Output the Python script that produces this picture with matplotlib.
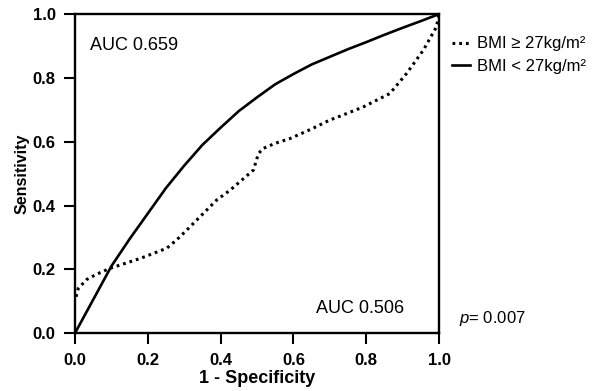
import matplotlib
matplotlib.use("Agg")
import matplotlib.pyplot as plt

plt.rcParams['font.family'] = ['Liberation Sans', 'DejaVu Sans']
plt.rcParams['mathtext.fontset'] = 'custom'
plt.rcParams['mathtext.rm'] = 'Liberation Sans'
plt.rcParams['mathtext.it'] = 'Liberation Sans:italic'

# ROC curve: BMI < 27 (solid)
low_fpr = [0, 0.05, 0.10, 0.15, 0.20, 0.25, 0.30, 0.35, 0.40, 0.45, 0.50,
           0.55, 0.60, 0.65, 0.70, 0.75, 0.80, 0.85, 0.90, 0.95, 1.0]
low_tpr = [0, 0.105, 0.21, 0.295, 0.375, 0.455, 0.525, 0.59, 0.644, 0.696, 0.739,
           0.78, 0.812, 0.842, 0.866, 0.89, 0.912, 0.935, 0.957, 0.978, 1.0]

# BMI >= 27 (dotted)
high_fpr = [0.003, 0.009, 0.032, 0.06, 0.096, 0.179, 0.252, 0.279, 0.307, 0.362,
            0.389, 0.426, 0.49, 0.504, 0.517, 0.55, 0.591, 0.65, 0.70, 0.728,
            0.792, 0.865, 0.911, 0.957, 0.993, 1.0]
high_tpr = [0.114, 0.14, 0.168, 0.185, 0.203, 0.234, 0.266, 0.292, 0.323, 0.386,
            0.417, 0.448, 0.511, 0.563, 0.579, 0.595, 0.61, 0.64, 0.668, 0.68,
            0.709, 0.751, 0.814, 0.887, 0.96, 1.0]

labels = ["BMI \u2265 27kg/m\u00b2", "BMI < 27kg/m\u00b2"]
auc_low = "AUC 0.659"
auc_high = "AUC 0.506"
p_text = "$p$= 0.007"

fig = plt.figure(figsize=(6, 3.91), dpi=100)
ax = fig.add_axes([0.125, 0.148, 0.6067, 0.816])

ax.plot(high_fpr, high_tpr, color='black', lw=2.2, ls=(0, (0.9, 1.3)),
        label=labels[0])
ax.plot(low_fpr, low_tpr, color='black', lw=1.9, label=labels[1])

ax.set_xlim(0, 1)
ax.set_ylim(0, 1)
ax.set_xticks([0, 0.2, 0.4, 0.6, 0.8, 1.0])
ax.set_yticks([0, 0.2, 0.4, 0.6, 0.8, 1.0])
ax.set_xticklabels(["%.1f" % t for t in ax.get_xticks()])
ax.set_yticklabels(["%.1f" % t for t in ax.get_yticks()])
ax.tick_params(direction='out', length=8, width=1.5, pad=6,
               labelsize=12)
for lab in ax.get_xticklabels() + ax.get_yticklabels():
    lab.set_fontweight('bold')
for s in ax.spines.values():
    s.set_linewidth(1.7)

ax.set_xlabel("1 - Specificity", fontsize=13, fontweight='bold', labelpad=2)
ax.set_ylabel("Sensitivity", fontsize=11.5, fontweight='bold', labelpad=2)

ax.text(0.041, 0.90, auc_low, fontsize=13, va='center', ha='left')
ax.text(0.662, 0.078, auc_high, fontsize=13, va='center', ha='left')
ax.text(1.055, 0.047, p_text, fontsize=12, va='center', ha='left',
        transform=ax.transAxes)

ax.legend(loc='upper left', bbox_to_anchor=(1.036, 0.93), frameon=False,
          fontsize=12, handlelength=1.1, handletextpad=0.4,
          labelspacing=0.45, borderpad=0, borderaxespad=0)

fig.savefig("out.png", dpi=100)
